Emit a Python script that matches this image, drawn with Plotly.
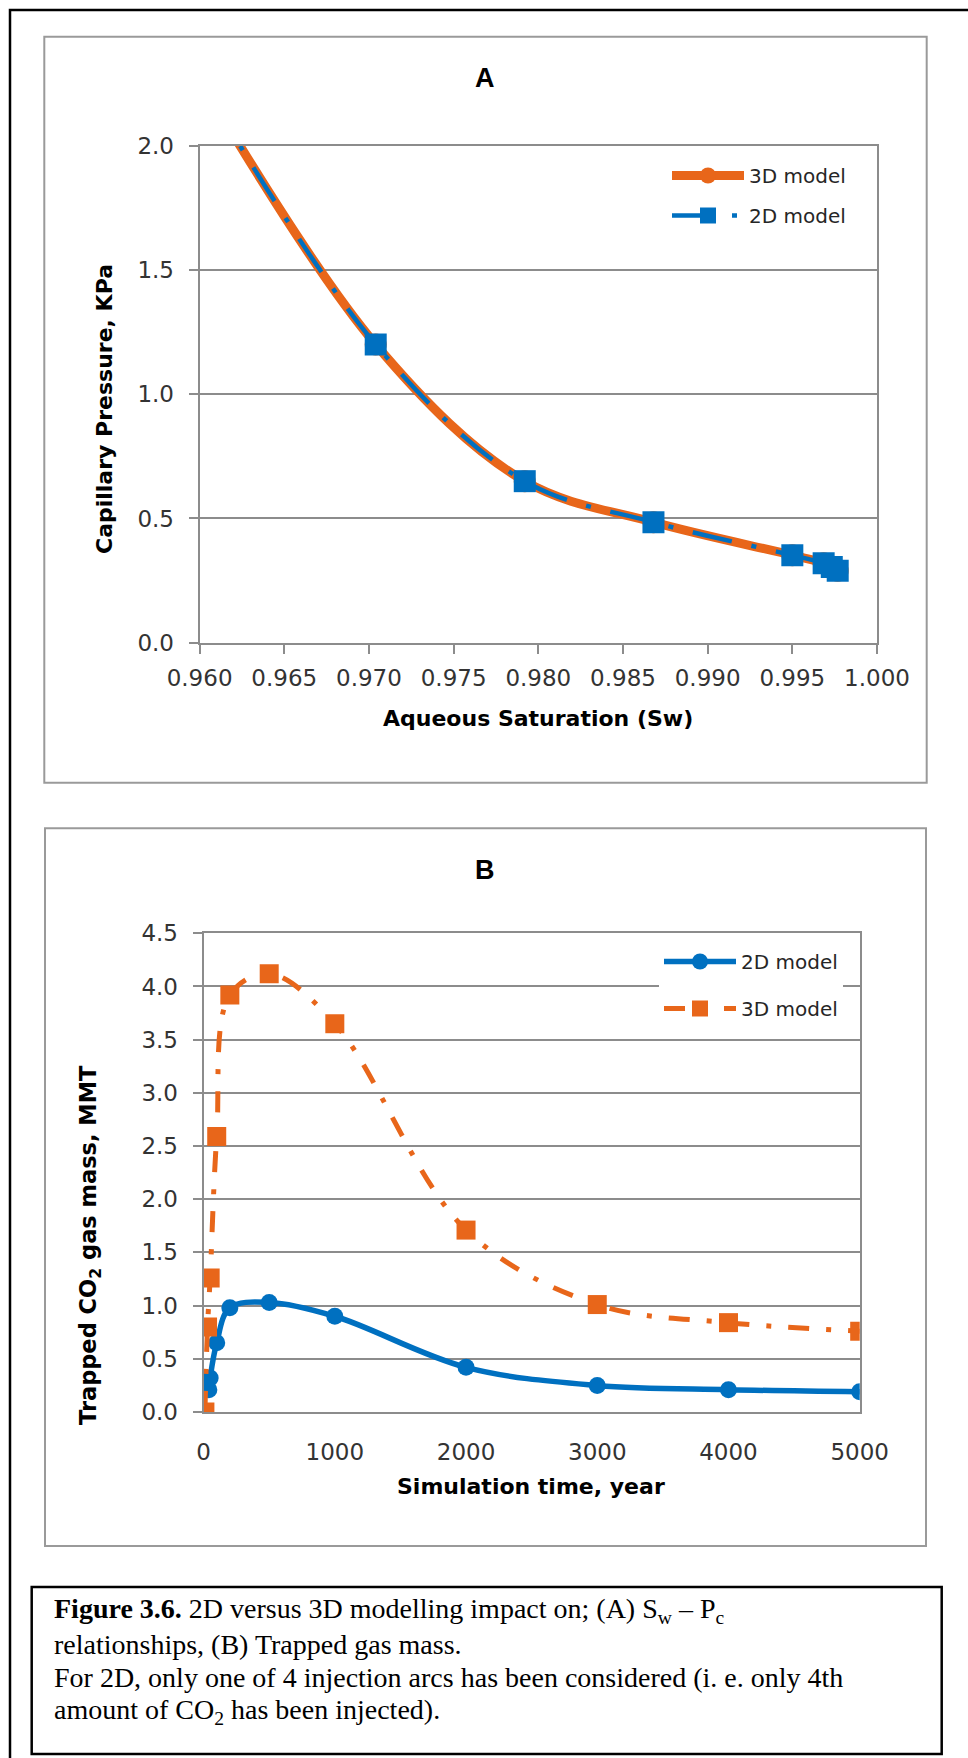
import plotly.graph_objects as go

W, H = 968, 1758


def px(x):
    return x / W


def py(y):
    return 1 - y / H


# ---------------- Data: Chart A (Sw - Pc) ----------------
sw_3d = [0.9580, 0.9704, 0.9792, 0.9868, 0.9950, 0.99685, 0.99733, 0.99768]
pc_3d = [2.50, 1.20, 0.65, 0.485, 0.352, 0.32, 0.305, 0.29]
sw_2d = [0.9580, 0.9704, 0.9792, 0.9868, 0.9950, 0.99685, 0.99733, 0.99768]
pc_2d = [2.50, 1.20, 0.65, 0.485, 0.352, 0.32, 0.305, 0.29]

# ---------------- Data: Chart B (trapped gas mass) ----------------
t_2d = [40, 50, 100, 200, 500, 1000, 2000, 3000, 4000, 5000]
m_2d = [0.21, 0.32, 0.65, 0.98, 1.03, 0.90, 0.42, 0.25, 0.21, 0.19]
t_3d = [10, 30, 50, 100, 200, 500, 1000, 2000, 3000, 4000, 5000]
m_3d = [0.00, 0.80, 1.26, 2.59, 3.92, 4.12, 3.65, 1.71, 1.01, 0.84, 0.76]

xticks_a = [0.960, 0.965, 0.970, 0.975, 0.980, 0.985, 0.990, 0.995, 1.000]
yticks_a = [0.0, 0.5, 1.0, 1.5, 2.0]
xticks_b = [0, 1000, 2000, 3000, 4000, 5000]
yticks_b = [0.0, 0.5, 1.0, 1.5, 2.0, 2.5, 3.0, 3.5, 4.0, 4.5]

ORANGE = "#E8661A"
BLUE = "#0070C0"
GRID = "#8C8C8C"
TICKFONT = dict(family="DejaVu Sans", size=23, color="#333333")

fig = go.Figure()

# Chart A traces
fig.add_trace(go.Scatter(
    x=sw_3d, y=pc_3d, name="3D model", mode="lines+markers",
    line=dict(color=ORANGE, width=9, shape="spline", smoothing=1.0),
    marker=dict(symbol="circle", size=22, color=ORANGE),
    xaxis="x", yaxis="y", legend="legend", legendgroup="a3"))
fig.add_trace(go.Scatter(
    x=sw_2d, y=pc_2d, name="2D model", mode="lines+markers",
    line=dict(color=BLUE, width=4.5, shape="spline", smoothing=1.0,
              dash="40px,20px,5px,20px"),
    marker=dict(symbol="square", size=22, color=BLUE),
    xaxis="x", yaxis="y", legend="legend", legendgroup="a2"))

# Chart B traces
fig.add_trace(go.Scatter(
    x=t_2d, y=m_2d, name="2D model", mode="lines+markers",
    line=dict(color=BLUE, width=5.5, shape="spline", smoothing=1.0),
    marker=dict(symbol="circle", size=17, color=BLUE),
    xaxis="x2", yaxis="y2", legend="legend2", legendgroup="b2"))
fig.add_trace(go.Scatter(
    x=t_3d, y=m_3d, name="3D model", mode="lines+markers",
    line=dict(color=ORANGE, width=5, shape="spline", smoothing=1.0,
              dash="21px,17px,5px,17px"),
    marker=dict(symbol="square", size=19, color=ORANGE),
    xaxis="x2", yaxis="y2", legend="legend2", legendgroup="b3"))

axis_common = dict(showline=True, mirror=True, linecolor=GRID, linewidth=2,
                   zeroline=False, tickfont=TICKFONT, fixedrange=True,
                   automargin=False)

LEGFONT = dict(family="DejaVu Sans", size=20, color="#262626")

fig.update_layout(
    template="none",
    width=W, height=H, autosize=False,
    margin=dict(l=0, r=0, t=0, b=0, pad=0, autoexpand=False),
    paper_bgcolor="white", plot_bgcolor="white",
    showlegend=True,
    xaxis=dict(domain=[px(199.6), px(877)], range=[0.96, 1.0],
               tickvals=xticks_a, tickformat=".3f", showgrid=False,
               ticks="outside", ticklen=9, tickwidth=2, tickcolor=GRID,
               ticklabelstandoff=5, anchor="y", **axis_common),
    yaxis=dict(domain=[py(642.7), py(145.7)], range=[0, 2.0],
               tickvals=yticks_a, tickformat=".1f", showgrid=True,
               gridcolor=GRID, gridwidth=2,
               ticks="outside", ticklen=9, tickwidth=2, tickcolor=GRID,
               ticklabelstandoff=10, anchor="x", **axis_common),
    xaxis2=dict(domain=[px(203.6), px(859.7)], range=[0, 5000],
                tickvals=xticks_b, tickformat="d", showgrid=False,
                ticks="", ticklabelstandoff=18, anchor="y2", **axis_common),
    yaxis2=dict(domain=[py(1412), py(933.3)], range=[0, 4.5],
                tickvals=yticks_b, tickformat=".1f", showgrid=True,
                gridcolor=GRID, gridwidth=2,
                ticks="outside", ticklen=9, tickwidth=2, tickcolor=GRID,
                ticklabelstandoff=10, anchor="x2", **axis_common),
    legend=dict(x=px(667), y=py(156), xanchor="left", yanchor="top",
                bgcolor="white", borderwidth=0, tracegroupgap=11,
                itemwidth=72, font=LEGFONT),
    legend2=dict(x=px(659), y=py(942), xanchor="left", yanchor="top",
                 bgcolor="white", borderwidth=0, tracegroupgap=18,
                 itemwidth=72, font=LEGFONT),
)

shapes = [
    # outer black page border (right/bottom edges lie off-page)
    dict(type="rect", xref="paper", yref="paper", x0=px(10), x1=1.05,
         y0=-0.05, y1=py(10), line=dict(color="black", width=2.5)),
    # chart A frame
    dict(type="rect", xref="paper", yref="paper", x0=px(44.3), x1=px(926.7),
         y0=py(782.7), y1=py(36.7), line=dict(color="#9A9A9A", width=2)),
    # chart B frame
    dict(type="rect", xref="paper", yref="paper", x0=px(45), x1=px(926),
         y0=py(1546), y1=py(828.3), line=dict(color="#9A9A9A", width=2)),
    # caption frame
    dict(type="rect", xref="paper", yref="paper", x0=px(31.7), x1=px(941.7),
         y0=py(1754), y1=py(1587), line=dict(color="black", width=2.5)),
]
fig.update_layout(shapes=shapes)

TITLEFONT = dict(family="DejaVu Sans", size=22, color="black")
CAPFONT = dict(family="Liberation Serif", size=28, color="black")

annotations = [
    dict(text="<b>A</b>", x=px(485.5), y=py(78.4),
         font=dict(family="Liberation Sans", size=27, color="black")),
    dict(text="<b>B</b>", x=px(485.5), y=py(870),
         font=dict(family="Liberation Sans", size=27, color="black")),
    dict(text="<b>Aqueous Saturation (Sw)</b>", x=px(538.4), y=py(718.3),
         font=TITLEFONT),
    dict(text="<b>Capillary Pressure, KPa</b>", x=px(105), y=py(409),
         textangle=-90, font=TITLEFONT),
    dict(text="<b>Simulation time, year</b>", x=px(531.4), y=py(1486.7),
         font=TITLEFONT),
    dict(text="<b>Trapped CO<sub>2</sub> gas mass, MMT</b>", x=px(90),
         y=py(1245), textangle=-90,
         font=dict(family="DejaVu Sans", size=22.5, color="black")),
    dict(text="<b>Figure 3.6.</b> 2D versus 3D modelling impact on; (A) S<sub>w</sub> – P<sub>c</sub>",
         x=px(51.7), y=py(1610), xanchor="left", font=CAPFONT),
    dict(text="relationships, (B) Trapped gas mass.", x=px(51.7), y=py(1644),
         xanchor="left", font=CAPFONT),
    dict(text="For 2D, only one of 4 injection arcs has been considered (i. e. only 4th",
         x=px(51.7), y=py(1677), xanchor="left", font=CAPFONT),
    dict(text="amount of CO<sub>2</sub> has been injected).", x=px(51.7),
         y=py(1711), xanchor="left", font=CAPFONT),
]
for a in annotations:
    a.setdefault("xref", "paper")
    a.setdefault("yref", "paper")
    a.setdefault("xanchor", "center")
    a.setdefault("yanchor", "middle")
    a["showarrow"] = False
fig.update_layout(annotations=annotations)

fig.write_html("out.html")
